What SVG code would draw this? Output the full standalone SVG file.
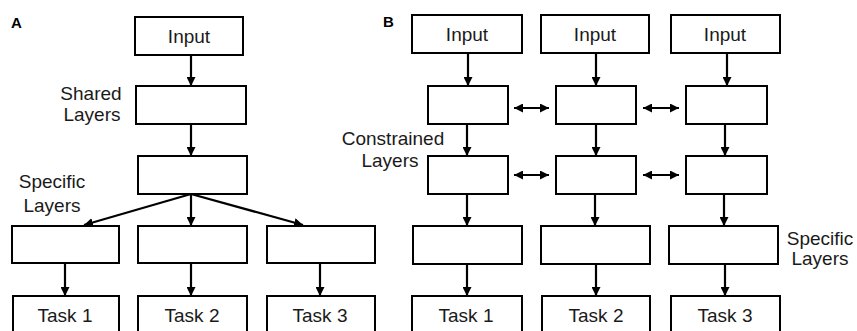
<svg xmlns="http://www.w3.org/2000/svg" width="857" height="331" viewBox="0 0 857 331">
<style>
.box{fill:#fff;stroke:#000;stroke-width:2}
.t{font-family:"Liberation Sans",Arial,sans-serif;font-size:19px;fill:#1a1a1a;text-anchor:middle}
.lbl{font-family:"Liberation Sans",Arial,sans-serif;font-size:15px;font-weight:bold;fill:#000}
.c{fill:none;stroke:#000;stroke-width:2.2}
</style>
<defs>
<marker id="ah" viewBox="0 0 10 10" refX="10" refY="5" markerWidth="9" markerHeight="9" markerUnits="userSpaceOnUse" orient="auto-start-reverse">
<path d="M0,0 L10,5 L0,10 z" fill="#000"/>
</marker>
</defs>
<rect width="857" height="331" fill="#fff"/>
<text class="lbl" x="11" y="28">A</text>
<text class="lbl" x="383" y="27">B</text>

<g id="connectors">
<line class="c" x1="191" y1="55" x2="191" y2="86" marker-end="url(#ah)"/>
<line class="c" x1="191" y1="124" x2="191" y2="156" marker-end="url(#ah)"/>
<line class="c" x1="191" y1="194" x2="84" y2="225" marker-end="url(#ah)"/>
<line class="c" x1="191" y1="194" x2="191" y2="226" marker-end="url(#ah)"/>
<line class="c" x1="191" y1="194" x2="303" y2="225" marker-end="url(#ah)"/>
<line class="c" x1="65" y1="263" x2="65" y2="296" marker-end="url(#ah)"/>
<line class="c" x1="191" y1="263" x2="191" y2="296" marker-end="url(#ah)"/>
<line class="c" x1="320" y1="263" x2="320" y2="296" marker-end="url(#ah)"/>

<line class="c" x1="468" y1="53" x2="468" y2="86" marker-end="url(#ah)"/>
<line class="c" x1="596" y1="53" x2="596" y2="86" marker-end="url(#ah)"/>
<line class="c" x1="727" y1="53" x2="727" y2="86" marker-end="url(#ah)"/>
<line class="c" x1="467" y1="124" x2="467" y2="156" marker-end="url(#ah)"/>
<line class="c" x1="596" y1="124" x2="596" y2="156" marker-end="url(#ah)"/>
<line class="c" x1="725" y1="124" x2="725" y2="156" marker-end="url(#ah)"/>
<line class="c" x1="467" y1="194" x2="467" y2="226" marker-end="url(#ah)"/>
<line class="c" x1="595" y1="194" x2="595" y2="226" marker-end="url(#ah)"/>
<line class="c" x1="724" y1="194" x2="724" y2="226" marker-end="url(#ah)"/>
<line class="c" x1="467" y1="264" x2="467" y2="296" marker-end="url(#ah)"/>
<line class="c" x1="596" y1="264" x2="596" y2="296" marker-end="url(#ah)"/>
<line class="c" x1="725" y1="264" x2="725" y2="296" marker-end="url(#ah)"/>

<line class="c" x1="514" y1="108" x2="549" y2="108" marker-start="url(#ah)" marker-end="url(#ah)"/>
<line class="c" x1="643" y1="108" x2="679" y2="108" marker-start="url(#ah)" marker-end="url(#ah)"/>
<line class="c" x1="514" y1="175" x2="549" y2="175" marker-start="url(#ah)" marker-end="url(#ah)"/>
<line class="c" x1="643" y1="175" x2="679" y2="175" marker-start="url(#ah)" marker-end="url(#ah)"/>
</g>

<g id="a-input"><rect class="box" x="135" y="17" width="108" height="38"/><text class="t" x="189" y="43">Input</text></g>
<g id="a-shared"><rect class="box" x="136" y="86" width="110" height="38"/></g>
<g id="a-shared2"><rect class="box" x="138" y="156" width="109" height="38"/></g>
<g id="a-spec1"><rect class="box" x="12" y="226" width="107" height="37"/></g>
<g id="a-spec2"><rect class="box" x="138" y="226" width="109" height="37"/></g>
<g id="a-spec3"><rect class="box" x="267" y="226" width="108" height="37"/></g>
<g id="a-task1"><rect class="box" x="13" y="296" width="106" height="40"/><text class="t" x="65" y="322">Task 1</text></g>
<g id="a-task2"><rect class="box" x="138" y="296" width="109" height="40"/><text class="t" x="192" y="322">Task 2</text></g>
<g id="a-task3"><rect class="box" x="267" y="296" width="108" height="40"/><text class="t" x="320" y="322">Task 3</text></g>
<g id="a-labels">
<text class="t" x="91" y="100">Shared</text><text class="t" x="92" y="121">Layers</text>
<text class="t" x="52" y="188">Specific</text><text class="t" x="52" y="212">Layers</text>
</g>

<g id="b-input1"><rect class="box" x="412" y="15" width="110" height="38"/><text class="t" x="467" y="41">Input</text></g>
<g id="b-input2"><rect class="box" x="541" y="15" width="108" height="38"/><text class="t" x="595" y="41">Input</text></g>
<g id="b-input3"><rect class="box" x="671" y="15" width="109" height="38"/><text class="t" x="725" y="41">Input</text></g>
<g id="b-c11"><rect class="box" x="428" y="86" width="80" height="38"/></g>
<g id="b-c12"><rect class="box" x="556" y="86" width="80" height="38"/></g>
<g id="b-c13"><rect class="box" x="686" y="86" width="81" height="38"/></g>
<g id="b-c21"><rect class="box" x="428" y="156" width="80" height="38"/></g>
<g id="b-c22"><rect class="box" x="556" y="156" width="80" height="38"/></g>
<g id="b-c23"><rect class="box" x="686" y="156" width="81" height="38"/></g>
<g id="b-s1"><rect class="box" x="413" y="226" width="109" height="38"/></g>
<g id="b-s2"><rect class="box" x="541" y="226" width="109" height="38"/></g>
<g id="b-s3"><rect class="box" x="669" y="226" width="109" height="38"/></g>
<g id="b-task1"><rect class="box" x="412" y="296" width="110" height="40"/><text class="t" x="466" y="322">Task 1</text></g>
<g id="b-task2"><rect class="box" x="542" y="296" width="108" height="40"/><text class="t" x="596" y="322">Task 2</text></g>
<g id="b-task3"><rect class="box" x="671" y="296" width="109" height="40"/><text class="t" x="725" y="322">Task 3</text></g>
<g id="b-labels">
<text class="t" x="393" y="145">Constrained</text><text class="t" x="390" y="167">Layers</text>
<text class="t" x="820" y="245">Specific</text><text class="t" x="820" y="265">Layers</text>
</g>
</svg>
